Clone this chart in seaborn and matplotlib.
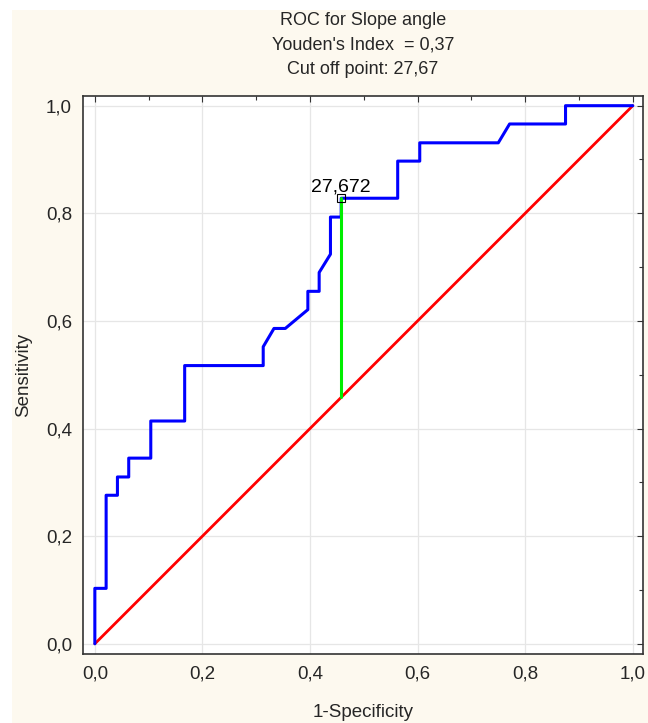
import matplotlib
matplotlib.use("Agg")
import matplotlib.pyplot as plt
import seaborn as sns
import pandas as pd
from matplotlib.patches import Rectangle
from matplotlib.ticker import MultipleLocator, FuncFormatter

# --- DATA ---
fpr = [0.0, 0.0, 0.021, 0.021, 0.042, 0.042, 0.063, 0.063, 0.104, 0.104,
       0.167, 0.167, 0.313, 0.313, 0.333, 0.354, 0.396, 0.396, 0.417, 0.417,
       0.438, 0.438, 0.458, 0.458, 0.563, 0.563, 0.604, 0.604, 0.750, 0.771,
       0.875, 0.875, 1.0]
tpr = [0.0, 0.103, 0.103, 0.276, 0.276, 0.310, 0.310, 0.345, 0.345, 0.414,
       0.414, 0.517, 0.517, 0.552, 0.586, 0.586, 0.621, 0.655, 0.655, 0.690,
       0.724, 0.793, 0.793, 0.828, 0.828, 0.897, 0.897, 0.931, 0.931, 0.966,
       0.966, 1.0, 1.0]
diag = [0.0, 1.0]
cut_fpr = 0.458
cut_tpr = 0.828
cut_label = "27,672"
title_lines = ["ROC for Slope angle", "Youden's Index  = 0,37", "Cut off point: 27,67"]

df_roc = pd.DataFrame({"fpr": fpr, "tpr": tpr})
df_diag = pd.DataFrame({"x": diag, "y": diag})

sns.set_theme(style="white")
plt.rcParams['font.family'] = ['Liberation Sans', 'DejaVu Sans']

fig = plt.figure(figsize=(6.48, 7.23), dpi=100, facecolor="white")
# cream panel behind the plot (white strip on top and left)
fig.patches.append(Rectangle((12 / 648, 0), 1, 1 - 10 / 723, transform=fig.transFigure,
                             facecolor="#fdf9ef", edgecolor="none", zorder=-1))
ax = fig.add_axes([83 / 648, 1 - 654 / 723, 560 / 648, 558 / 723])
ax.set_facecolor("white")

sns.lineplot(data=df_diag, x="x", y="y", ax=ax, color="#ff0000", linewidth=2.0,
             estimator=None, sort=False, zorder=2)
sns.lineplot(data=df_roc, x="fpr", y="tpr", ax=ax, color="#0000ff", linewidth=2.2,
             estimator=None, sort=False, zorder=3)
ax.plot([cut_fpr, cut_fpr], [cut_fpr, cut_tpr], color="#00ee00", linewidth=2.2, zorder=4)
ax.plot([cut_fpr], [cut_tpr], marker="s", markersize=6, markerfacecolor="none",
        markeredgecolor="black", markeredgewidth=0.8, linestyle="none", zorder=5)
ax.annotate(cut_label, (cut_fpr, cut_tpr), xytext=(0, 2), textcoords="offset points",
            ha="center", va="bottom", fontsize=14, color="black")

ax.set_xlim(-0.022, 1.019)
ax.set_ylim(-0.019, 1.018)
ax.xaxis.set_major_locator(MultipleLocator(0.2))
ax.yaxis.set_major_locator(MultipleLocator(0.2))
ax.xaxis.set_minor_locator(MultipleLocator(0.1))
ax.yaxis.set_minor_locator(MultipleLocator(0.1))
fmt = FuncFormatter(lambda v, p: f"{v:.1f}".replace(".", ","))
ax.xaxis.set_major_formatter(fmt)
ax.yaxis.set_major_formatter(fmt)
ax.tick_params(which="both", direction="in", top=True, right=True, color="#333333",
               width=0.8, labelsize=13.5, pad=8)
ax.tick_params(which="major", length=4)
ax.tick_params(which="minor", length=3)
ax.grid(True, which="major", color="#e6e6e6", linewidth=0.9)
ax.set_axisbelow(True)
for sp in ax.spines.values():
    sp.set_color("#333333")
    sp.set_linewidth(1.2)

ax.set_xlabel("1-Specificity", fontsize=13.5, labelpad=16)
ax.set_ylabel("Sensitivity", fontsize=13.5, labelpad=10)
ax.set_title("\n".join(title_lines), fontsize=13, linespacing=1.55, pad=16)

fig.savefig("out.png", dpi=100, facecolor=fig.get_facecolor())
